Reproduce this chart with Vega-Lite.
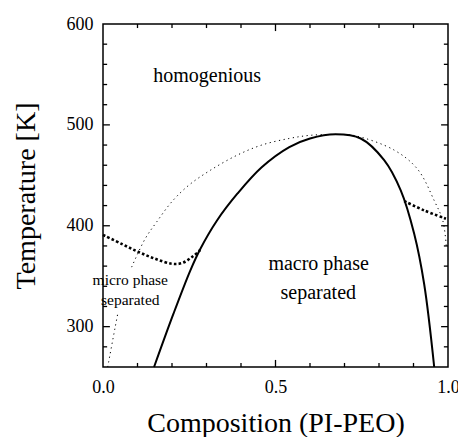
{
  "$schema": "https://vega.github.io/schema/vega-lite/v6.json",
  "width": 345,
  "height": 343,
  "autosize": {"type": "none"},
  "padding": {"left": 103, "top": 24, "right": 10, "bottom": 70},
  "background": "white",
  "config": {
    "view": {"stroke": "black", "strokeWidth": 1.5},
    "font": "Liberation Serif",
    "axis": {"grid": false, "domain": false, "ticks": false, "labelColor": "black", "titleColor": "black", "labelFont": "Liberation Serif", "titleFont": "Liberation Serif", "titleFontWeight": "normal", "labelFlush": false, "labelOverlap": false}
  },
  "datasets": {
    "binodal": [
      {"c": 0.148, "T": 260}, {"c": 0.204, "T": 312.6}, {"c": 0.253, "T": 355.6}, {"c": 0.282, "T": 377},
      {"c": 0.33, "T": 405}, {"c": 0.39, "T": 432}, {"c": 0.46, "T": 458}, {"c": 0.54, "T": 478},
      {"c": 0.6, "T": 486.5}, {"c": 0.674, "T": 490.7}, {"c": 0.747, "T": 486.5}, {"c": 0.815, "T": 465},
      {"c": 0.863, "T": 435}, {"c": 0.902, "T": 392}, {"c": 0.931, "T": 342}, {"c": 0.96, "T": 260}
    ],
    "spinodal": [
      {"seg": "a", "c": 0.0136, "T": 260}, {"seg": "a", "c": 0.035, "T": 299}, {"seg": "a", "c": 0.044, "T": 315},
      {"seg": "b", "c": 0.083, "T": 359}, {"seg": "b", "c": 0.122, "T": 387}, {"seg": "b", "c": 0.156, "T": 404},
      {"seg": "b", "c": 0.2, "T": 424}, {"seg": "b", "c": 0.248, "T": 440}, {"seg": "b", "c": 0.311, "T": 455},
      {"seg": "b", "c": 0.389, "T": 470}, {"seg": "b", "c": 0.46, "T": 480}, {"seg": "b", "c": 0.539, "T": 486.5},
      {"seg": "b", "c": 0.602, "T": 489.7}, {"seg": "b", "c": 0.68, "T": 490.5}, {"seg": "b", "c": 0.728, "T": 489.5},
      {"seg": "b", "c": 0.844, "T": 475}, {"seg": "b", "c": 0.912, "T": 456}, {"seg": "b", "c": 0.96, "T": 425},
      {"seg": "b", "c": 0.985, "T": 405}, {"seg": "b", "c": 0.995, "T": 380}
    ],
    "micro": [
      {"seg": "left", "c": 0.0, "T": 391}, {"seg": "left", "c": 0.054, "T": 382}, {"seg": "left", "c": 0.103, "T": 374},
      {"seg": "left", "c": 0.151, "T": 367.3}, {"seg": "left", "c": 0.2, "T": 362.3}, {"seg": "left", "c": 0.229, "T": 363},
      {"seg": "left", "c": 0.258, "T": 369}, {"seg": "left", "c": 0.282, "T": 376},
      {"seg": "right", "c": 0.873, "T": 424.5}, {"seg": "right", "c": 0.931, "T": 415.2}, {"seg": "right", "c": 0.994, "T": 407}
    ],
    "xticks": [
      {"c": 0.1, "major": false}, {"c": 0.2, "major": false}, {"c": 0.3, "major": false},
      {"c": 0.4, "major": false}, {"c": 0.5, "major": true}, {"c": 0.6, "major": false}, {"c": 0.7, "major": false},
      {"c": 0.8, "major": false}, {"c": 0.9, "major": false}
    ],
    "yticks": [
      {"T": 280, "major": false}, {"T": 300, "major": true}, {"T": 320, "major": false},
      {"T": 340, "major": false}, {"T": 360, "major": false}, {"T": 380, "major": false}, {"T": 400, "major": true},
      {"T": 420, "major": false}, {"T": 440, "major": false}, {"T": 460, "major": false}, {"T": 480, "major": false},
      {"T": 500, "major": true}, {"T": 520, "major": false}, {"T": 540, "major": false}, {"T": 560, "major": false},
      {"T": 580, "major": false}
    ],
    "bigLabels": [
      {"label": "homogenious", "c": 0.302, "T": 548},
      {"label": "macro phase", "c": 0.625, "T": 362},
      {"label": "separated", "c": 0.624, "T": 333}
    ],
    "smallLabels": [
      {"label": "micro phase", "c": 0.079, "T": 346},
      {"label": "separated", "c": 0.079, "T": 326}
    ]
  },
  "layer": [
    {
      "data": {"name": "binodal"},
      "mark": {"type": "line", "color": "black", "strokeWidth": 2, "interpolate": "catmull-rom"},
      "encoding": {
        "x": {"field": "c", "type": "quantitative", "scale": {"domain": [0, 1], "nice": false, "zero": false},
          "axis": {"orient": "bottom", "values": [0, 0.5, 1], "format": ".1f",
            "labelFontSize": 18, "labelPadding": 11, "title": "Composition (PI-PEO)", "titleFontSize": 28, "titlePadding": 13}},
        "y": {"field": "T", "type": "quantitative", "scale": {"domain": [260, 600], "nice": false, "zero": false},
          "axis": {"orient": "left", "values": [300, 400, 500, 600],
            "labelFontSize": 18, "labelPadding": 10, "title": "Temperature [K]", "titleFontSize": 28, "titlePadding": 26}}
      }
    },
    {
      "data": {"name": "spinodal"},
      "mark": {"type": "line", "color": "black", "strokeWidth": 1, "strokeDash": [1.2, 3.5], "interpolate": "catmull-rom"},
      "encoding": {
        "x": {"field": "c", "type": "quantitative"},
        "y": {"field": "T", "type": "quantitative"},
        "detail": {"field": "seg"}
      }
    },
    {
      "data": {"name": "micro"},
      "mark": {"type": "line", "color": "black", "strokeWidth": 2.6, "strokeDash": [2.6, 2.2], "interpolate": "catmull-rom"},
      "encoding": {
        "x": {"field": "c", "type": "quantitative"},
        "y": {"field": "T", "type": "quantitative"},
        "detail": {"field": "seg"}
      }
    },
    {
      "data": {"name": "xticks"},
      "transform": [{"filter": "datum.major"}],
      "mark": {"type": "rule", "color": "black", "strokeWidth": 1.3},
      "encoding": {"x": {"field": "c", "type": "quantitative"}, "y": {"datum": 260}, "y2": {"datum": 267}}
    },
    {
      "data": {"name": "xticks"},
      "transform": [{"filter": "!datum.major"}],
      "mark": {"type": "rule", "color": "black", "strokeWidth": 1.3},
      "encoding": {"x": {"field": "c", "type": "quantitative"}, "y": {"datum": 260}, "y2": {"datum": 264}}
    },
    {
      "data": {"name": "xticks"},
      "transform": [{"filter": "datum.major"}],
      "mark": {"type": "rule", "color": "black", "strokeWidth": 1.3},
      "encoding": {"x": {"field": "c", "type": "quantitative"}, "y": {"datum": 600}, "y2": {"datum": 593}}
    },
    {
      "data": {"name": "xticks"},
      "transform": [{"filter": "!datum.major"}],
      "mark": {"type": "rule", "color": "black", "strokeWidth": 1.3},
      "encoding": {"x": {"field": "c", "type": "quantitative"}, "y": {"datum": 600}, "y2": {"datum": 596}}
    },
    {
      "data": {"name": "yticks"},
      "transform": [{"filter": "datum.major"}],
      "mark": {"type": "rule", "color": "black", "strokeWidth": 1.3},
      "encoding": {"y": {"field": "T", "type": "quantitative"}, "x": {"datum": 0}, "x2": {"datum": 0.02}}
    },
    {
      "data": {"name": "yticks"},
      "transform": [{"filter": "!datum.major"}],
      "mark": {"type": "rule", "color": "black", "strokeWidth": 1.3},
      "encoding": {"y": {"field": "T", "type": "quantitative"}, "x": {"datum": 0}, "x2": {"datum": 0.012}}
    },
    {
      "data": {"name": "yticks"},
      "transform": [{"filter": "datum.major"}],
      "mark": {"type": "rule", "color": "black", "strokeWidth": 1.3},
      "encoding": {"y": {"field": "T", "type": "quantitative"}, "x": {"datum": 1}, "x2": {"datum": 0.98}}
    },
    {
      "data": {"name": "yticks"},
      "transform": [{"filter": "!datum.major"}],
      "mark": {"type": "rule", "color": "black", "strokeWidth": 1.3},
      "encoding": {"y": {"field": "T", "type": "quantitative"}, "x": {"datum": 1}, "x2": {"datum": 0.988}}
    },
    {
      "data": {"name": "bigLabels"},
      "mark": {"type": "text", "fontSize": 20, "font": "Liberation Serif", "color": "black", "baseline": "middle"},
      "encoding": {
        "x": {"field": "c", "type": "quantitative"},
        "y": {"field": "T", "type": "quantitative"},
        "text": {"field": "label"}
      }
    },
    {
      "data": {"name": "smallLabels"},
      "mark": {"type": "text", "fontSize": 15.5, "font": "Liberation Serif", "color": "black", "baseline": "middle"},
      "encoding": {
        "x": {"field": "c", "type": "quantitative"},
        "y": {"field": "T", "type": "quantitative"},
        "text": {"field": "label"}
      }
    }
  ]
}
